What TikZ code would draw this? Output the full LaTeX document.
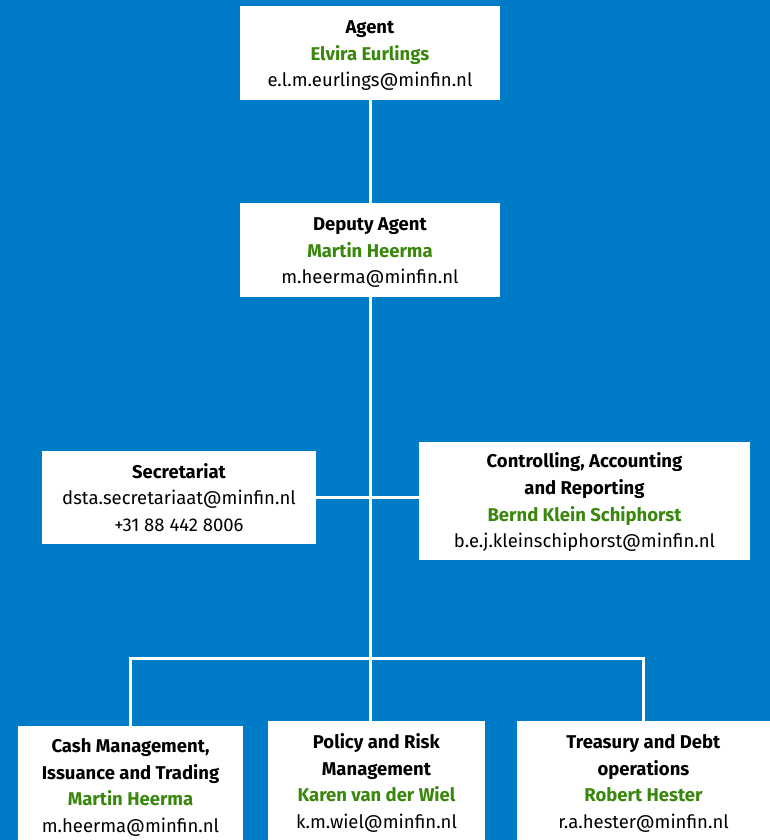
\documentclass[tikz,border=0pt]{standalone}
\usepackage{fontspec}
\setmainfont{Fira Sans}
\definecolor{dstablue}{RGB}{0,123,199}
\definecolor{dstagreen}{RGB}{57,135,12}
\newcommand{\person}[1]{\textcolor{dstagreen}{\bfseries #1}}
\newcommand{\card}[1]{\raisebox{-2pt}[\height][\depth]{\begin{tabular}{@{}c@{}}#1\end{tabular}}}
\begin{document}
\begin{tikzpicture}[x=1pt,y=-1pt,
    unit/.style={fill=white, inner sep=0pt,
      font=\fontsize{18.5}{26.6}\selectfont},
    link/.style={draw=white, line width=3pt}]
    \useasboundingbox (0,0) rectangle (770,840);
    \fill[dstablue] (0,0) rectangle (770,840);
    % boxes
    \node[unit, minimum width=260pt, minimum height=94pt] (agent) at (370,53)
      {\card{\textbf{Agent}\\\person{Elvira Eurlings}\\e.l.m.eurlings@minfin.nl}};
    \node[unit, minimum width=260pt, minimum height=94pt] (deputy) at (370,250)
      {\card{\textbf{Deputy Agent}\\\person{Martin Heerma}\\m.heerma@minfin.nl}};
    \node[unit, minimum width=274pt, minimum height=93pt] (secr) at (179,497.5)
      {\card{\textbf{Secretariat}\\dsta.secretariaat@minfin.nl\\+31 88 442 8006}};
    \node[unit, minimum width=331pt, minimum height=118pt] (control) at (584.5,500.5)
      {\card{\textbf{Controlling, Accounting}\\\textbf{and Reporting}\\\person{Bernd Klein Schiphorst}\\b.e.j.kleinschiphorst@minfin.nl}};
    \node[unit, minimum width=225pt, minimum height=118.4pt] (cash) at (130.5,785.2)
      {\card{\textbf{Cash Management,}\\\textbf{Issuance and Trading}\\\person{Martin Heerma}\\m.heerma@minfin.nl}};
    \node[unit, minimum width=217pt, minimum height=120.4pt] (policy) at (376.5,781.2)
      {\card{\textbf{Policy and Risk}\\\textbf{Management}\\\person{Karen van der Wiel}\\k.m.wiel@minfin.nl}};
    \node[unit, minimum width=253pt, minimum height=120.4pt] (treasury) at (643.5,781.2)
      {\card{\textbf{Treasury and Debt}\\\textbf{operations}\\\person{Robert Hester}\\r.a.hester@minfin.nl}};
    % lines
    \coordinate (split) at (370,658);
    \draw[link] (agent.south) -- (deputy.north);
    \draw[link] (deputy.south) -- (deputy.south |- policy.north);
    \draw[link] (secr.east) -- (secr.east -| control.west);
    \draw[link] (cash.north) |- (split) -| (treasury.north);
\end{tikzpicture}
\end{document}
